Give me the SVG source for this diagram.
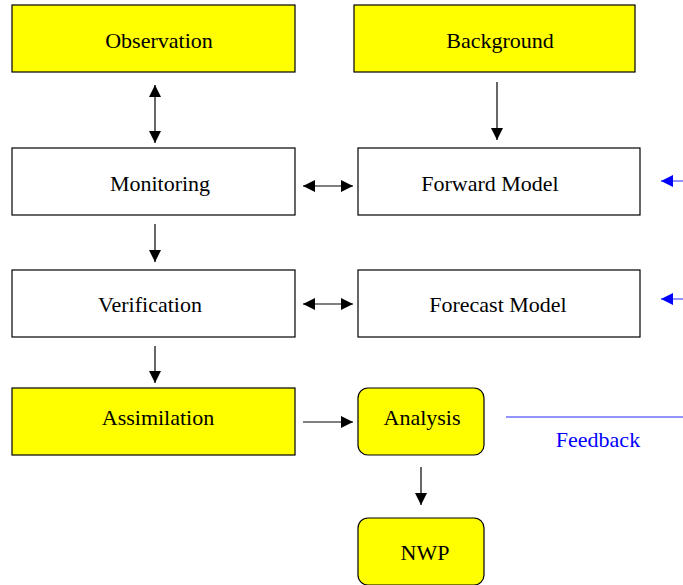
<svg xmlns="http://www.w3.org/2000/svg" width="683" height="585" viewBox="0 0 683 585">
<style>
.y{fill:#ffff00;stroke:#000;stroke-width:1.2}
.w{fill:#fff;stroke:#000;stroke-width:1.2}
.t{font-family:"Liberation Serif",serif;font-size:22px;fill:#000;text-anchor:middle}
.c{stroke:#000;stroke-width:1.2;fill:none}
.b{stroke:#6f6fff;stroke-width:1.5;fill:none}
</style>
<defs>
<marker id="a" viewBox="0 0 12 12" refX="12" refY="6" markerWidth="12" markerHeight="12" markerUnits="userSpaceOnUse" orient="auto-start-reverse"><path d="M0,0L12,6L0,12z" fill="#000"/></marker>
<marker id="ab" viewBox="0 0 12 12" refX="12" refY="6" markerWidth="12" markerHeight="12" markerUnits="userSpaceOnUse" orient="auto"><path d="M0,0L12,6L0,12z" fill="#0000ff"/></marker>
</defs>
<rect width="683" height="585" fill="#fff"/>
<g id="observation"><rect class="y" x="12" y="5" width="283" height="67"/><text class="t" x="159" y="48">Observation</text></g>
<g id="background"><rect class="y" x="354" y="5" width="281" height="67"/><text class="t" x="500" y="48">Background</text></g>
<g id="monitoring"><rect class="w" x="12" y="148" width="283" height="67"/><text class="t" x="160" y="191">Monitoring</text></g>
<g id="forward"><rect class="w" x="358" y="148" width="282" height="67"/><text class="t" x="490" y="191">Forward Model</text></g>
<g id="verification"><rect class="w" x="12" y="270" width="283" height="67"/><text class="t" x="150" y="312">Verification</text></g>
<g id="forecast"><rect class="w" x="358" y="270" width="282" height="67"/><text class="t" x="498" y="312">Forecast Model</text></g>
<g id="assimilation"><rect class="y" x="12" y="388" width="283" height="67"/><text class="t" x="158" y="425">Assimilation</text></g>
<g id="analysis"><rect class="y" x="358" y="388" width="126" height="67" rx="10"/><text class="t" x="422" y="425">Analysis</text></g>
<g id="nwp"><rect class="y" x="358" y="518" width="126" height="67" rx="10"/><text class="t" x="425" y="560">NWP</text></g>
<g id="connectors">
<line class="c" x1="155" y1="85" x2="155" y2="143" marker-start="url(#a)" marker-end="url(#a)"/>
<line class="c" x1="497" y1="82" x2="497" y2="140" marker-end="url(#a)"/>
<line class="c" x1="303" y1="186" x2="353" y2="186" marker-start="url(#a)" marker-end="url(#a)"/>
<line class="c" x1="155" y1="224" x2="155" y2="262" marker-end="url(#a)"/>
<line class="c" x1="303" y1="304" x2="353" y2="304" marker-start="url(#a)" marker-end="url(#a)"/>
<line class="c" x1="155" y1="346" x2="155" y2="383" marker-end="url(#a)"/>
<line class="c" x1="303" y1="422" x2="353" y2="422" marker-end="url(#a)"/>
<line class="c" x1="421" y1="467" x2="421" y2="505" marker-end="url(#a)"/>
<line class="b" x1="683" y1="181" x2="661" y2="181" marker-end="url(#ab)"/>
<line class="b" x1="683" y1="299" x2="661" y2="299" marker-end="url(#ab)"/>
<line class="b" x1="506" y1="417" x2="683" y2="417"/>
<text class="t" x="598" y="447" style="fill:#0000ff">Feedback</text>
</g>
</svg>
